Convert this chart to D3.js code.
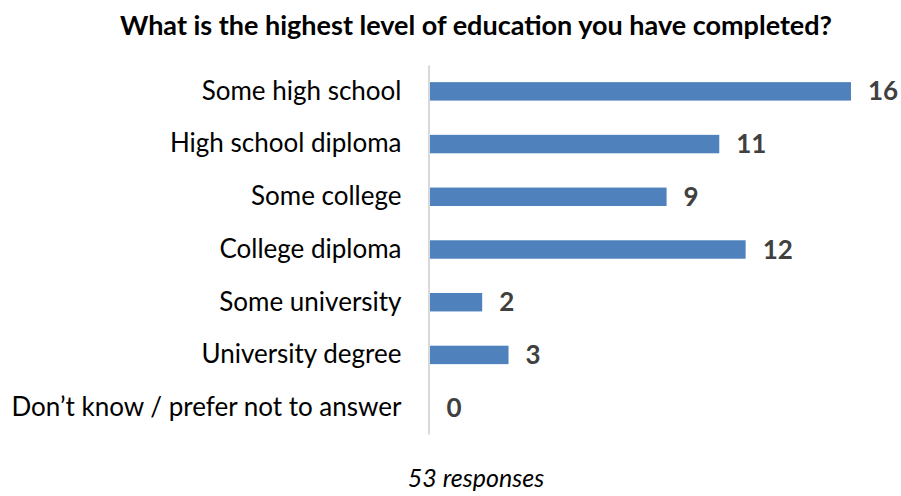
<!DOCTYPE html>
<html>
<head>
<meta charset="utf-8">
<script src="https://cdnjs.cloudflare.com/ajax/libs/d3/7.8.5/d3.min.js"></script>
<style>
  body { margin: 0; background: #fff; }
  text { font-family: Lato, "Open Sans", sans-serif; }
</style>
</head>
<body>
<script>
// chart data
var categories = ['Some high school', 'High school diploma', 'Some college', 'College diploma',
                  'Some university', 'University degree', 'Don\u2019t know / prefer not to answer'];
var counts = [16, 11, 9, 12, 2, 3, 0];
var title = 'What is the highest level of education you have completed?';
var footnote = '53 responses';

var W = 901, H = 496;
var svg = d3.select('body').append('svg').attr('width', W).attr('height', H);

var x = d3.scaleLinear().domain([0, 16]).range([429.5, 851]);
var y = d3.scaleBand().domain(categories).range([65, 434])
  .paddingInner(0.65).paddingOuter(0.325);

// title
svg.append('text')
  .attr('x', 476).attr('y', 35)
  .attr('text-anchor', 'middle')
  .style('font-size', '27px').style('font-weight', 'bold').style('fill', '#000')
  .text(title);

// bars
svg.selectAll('rect.bar').data(counts).enter()
  .append('rect').attr('class', 'bar')
  .attr('x', x(0))
  .attr('y', function(d, i) { return y(categories[i]); })
  .attr('width', function(d) { return x(d) - x(0); })
  .attr('height', y.bandwidth())
  .attr('fill', '#4f81bd');

// axis line (categories)
var yAxis = svg.append('g').attr('transform', 'translate(' + (x(0) - 1) + ',0)')
  .call(d3.axisLeft(y).tickSize(0).tickPadding(27));
yAxis.select('.domain').attr('stroke', '#d9d9d9').attr('stroke-width', 2);
yAxis.selectAll('text')
  .style('font-size', '26px').style('fill', '#000')
  .attr('font-family', null);

// value labels
svg.selectAll('text.val').data(counts).enter()
  .append('text').attr('class', 'val')
  .attr('x', function(d) { return x(d) + 17; })
  .attr('y', function(d, i) { return y(categories[i]) + y.bandwidth() / 2; })
  .attr('dy', '0.35em')
  .style('font-size', '26px').style('font-weight', 'bold').style('fill', '#404040')
  .text(function(d) { return d; });

// footnote
svg.append('text')
  .attr('x', 476).attr('y', 487)
  .attr('text-anchor', 'middle')
  .style('font-size', '25px').style('font-style', 'italic').style('fill', '#000')
  .text(footnote);
</script>
</body>
</html>
